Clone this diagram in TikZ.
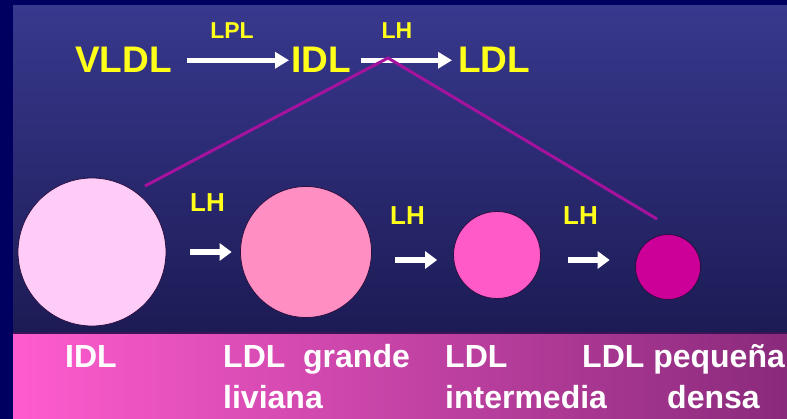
\documentclass[tikz,border=0pt]{standalone}
\usepackage{fontspec}
\setmainfont{Liberation Sans}
\usetikzlibrary{arrows.meta,calc}
\definecolor{outerc}{HTML}{000060}
\definecolor{paneltop}{HTML}{38388E}
\definecolor{panelbot}{HTML}{1C1B55}
\definecolor{bandL}{HTML}{FF5CCF}
\definecolor{bandR}{HTML}{8A2A7C}
\definecolor{bandline}{HTML}{3A1456}
\definecolor{ylw}{HTML}{FFFF1A}
\definecolor{lnk}{HTML}{A5139E}
\definecolor{cA}{HTML}{FFCCF8}
\definecolor{cB}{HTML}{FF8EC2}
\definecolor{cC}{HTML}{FF5AC8}
\definecolor{cD}{HTML}{CC0099}
\definecolor{rim}{HTML}{2A0F40}
\tikzset{
  bigtxt/.style={text=ylw, font=\fontsize{37}{40}\selectfont\bfseries, inner sep=0pt, anchor=base west},
  toplbl/.style={text=ylw, font=\fontsize{23}{26}\selectfont\bfseries, inner sep=0pt, anchor=base},
  lhlbl/.style={text=ylw, font=\fontsize{26}{28}\selectfont\bfseries, inner sep=0pt, anchor=base west},
  bottxt/.style={text=white, font=\fontsize{32}{38}\selectfont\bfseries, inner sep=0pt, anchor=base west},
  toparrow/.style={draw=white, line width=5pt, -{Triangle[length=14pt,width=16pt]}},
  smallarrow/.style={draw=white, line width=6.5pt, -{Triangle[length=12pt,width=17pt]}},
  blob/.style={circle, draw=rim, line width=0.8pt, inner sep=0pt},
  linkline/.style={draw=lnk, line width=3pt}
}
\begin{document}
\begin{tikzpicture}[x=1pt,y=-1pt]
\useasboundingbox (0,0) rectangle (787,419);
\fill[outerc] (0,0) rectangle (787,419);
\shade[top color=paneltop,bottom color=panelbot] (13,6) rectangle (787,333);
\shade[left color=bandL,right color=bandR] (13,333) rectangle (787,419);
\draw[bandline, line width=1.5pt] (13,333) -- (787,333);

% top row
\node[bigtxt] (vldl) at (75,73) {VLDL};
\node[bigtxt] (idl) at (291,73) {IDL};
\node[bigtxt] (ldl) at (458,73) {LDL};
\node[toplbl] (lpl) at (232,39) {LPL};
\node[toplbl] (lh0) at (397,39) {LH};
\draw[toparrow, shorten <=15pt, shorten >=2pt] (vldl.east) -- (idl.west);
\draw[toparrow, shorten <=9.5pt, shorten >=6pt] (idl.east) -- (ldl.west);

% connecting lines
\coordinate (apex) at (388,58);
\coordinate (e1) at (145,186);
\coordinate (e4) at (657,219);
\draw[linkline] (e1) -- (apex) -- (e4);

% particles
\node[blob, fill=cA, minimum size=148pt] (c1) at (92,252) {};
\node[blob, fill=cB, minimum size=131pt] (c2) at (306,252) {};
\node[blob, fill=cC, minimum size=87pt] (c3) at (497,255) {};
\node[blob, fill=cD, minimum size=65pt] (c4) at (668,267) {};

\draw[smallarrow, shorten <=24pt, shorten >=8.5pt] (c1.east) -- (c2.west);
\draw[smallarrow, shorten <=23.5pt, shorten >=16pt] ([yshift=-8pt]c2.east) -- ([yshift=-5pt]c3.west);
\draw[smallarrow, shorten <=27.5pt, shorten >=25.5pt] ([yshift=-5pt]c3.east) -- ([yshift=7pt]c4.west);

\node[lhlbl] (lh1) at (190,212) {LH};
\node[lhlbl] (lh2) at (390,225) {LH};
\node[lhlbl] (lh3) at (563,225) {LH};

% bottom band labels
\node[bottxt] (t1) at (65,368) {IDL};
\node[bottxt] (t2a) at (223,368) {LDL\ \ grande};
\node[bottxt] (t2b) at (223,409) {liviana};
\node[bottxt] (t3a) at (445,368) {LDL};
\node[bottxt] (t3b) at (445,409) {intermedia};
\node[bottxt] (t4a) at (582,368) {LDL pequeña};
\node[bottxt] (t4b) at (667,409) {densa};
\end{tikzpicture}
\end{document}
